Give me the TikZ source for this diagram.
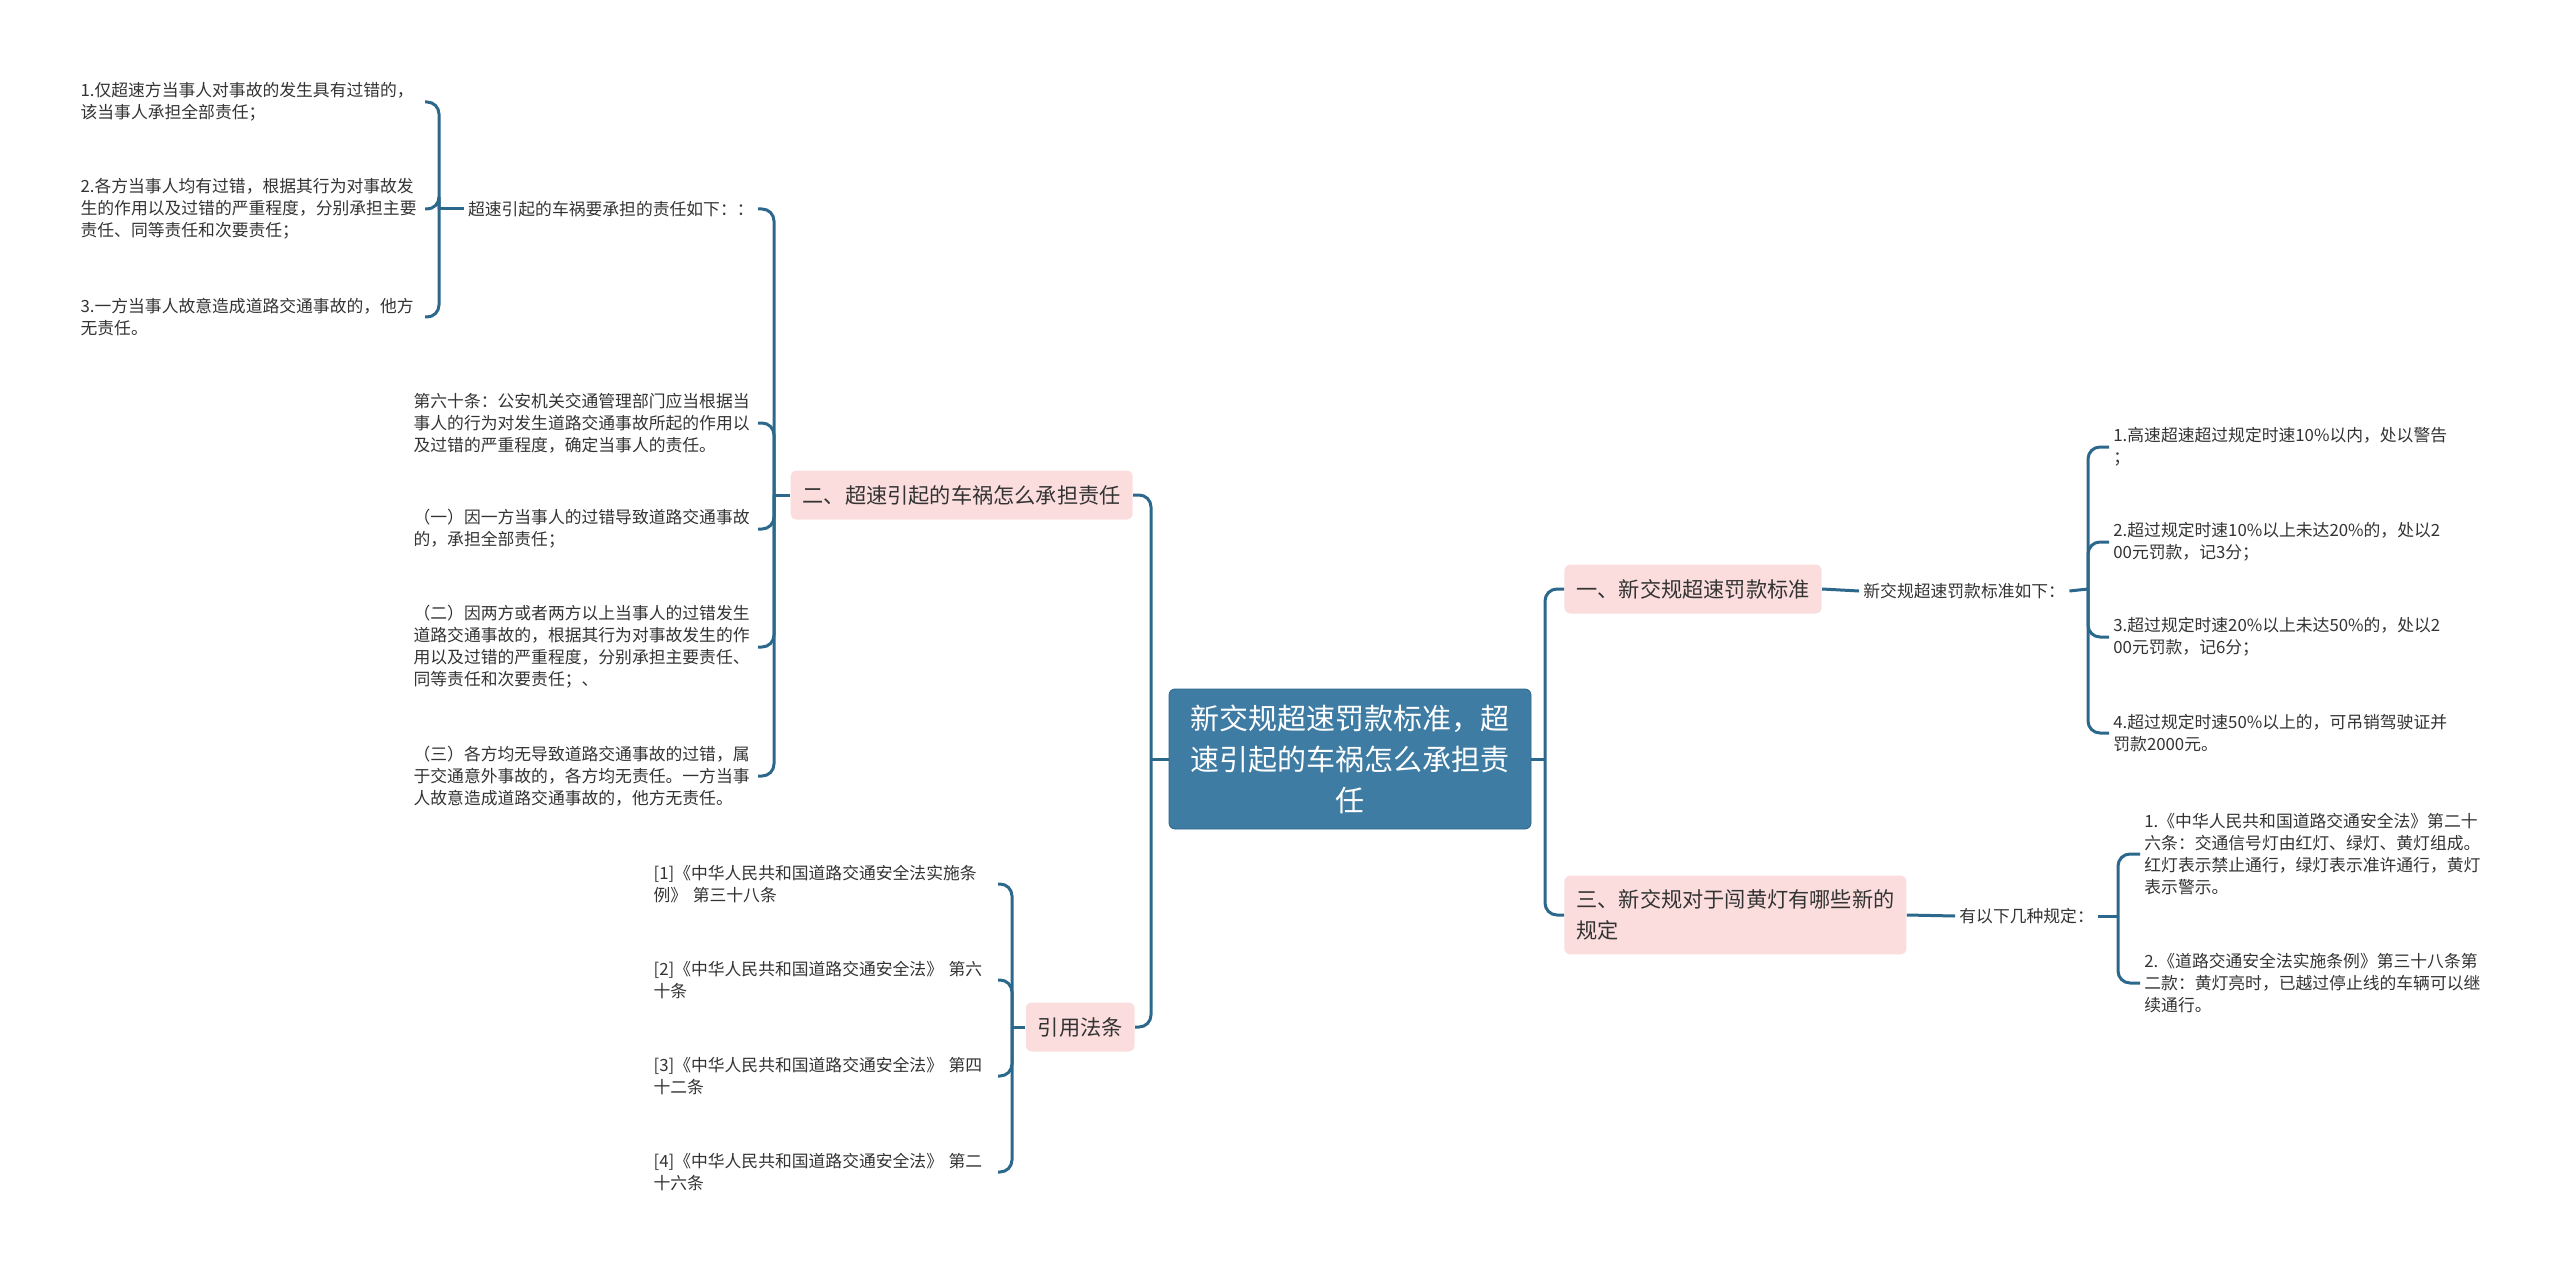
\documentclass[tikz,border=0pt]{standalone}
\usepackage{fontspec}
\setmainfont{Noto Sans CJK SC}
\usetikzlibrary{positioning}
\definecolor{rootblue}{RGB}{62,124,163}
\definecolor{rootline}{RGB}{45,100,135}
\definecolor{topicpink}{RGB}{251,221,221}
\definecolor{linkblue}{RGB}{44,104,140}
\definecolor{txtgray}{RGB}{51,51,51}

\begin{document}
\begin{tikzpicture}[x=0.5pt, y=-0.5pt]
    \tikzstyle{rootbox} = [draw=rootline, fill=rootblue, text=white, rounded corners=3pt, align=center, minimum width=181pt, minimum height=70pt, font=\fontsize{14.5pt}{20.5pt}\selectfont]
    \tikzstyle{topic} = [fill=topicpink, rounded corners=3pt, align=left, inner xsep=6pt, inner ysep=7pt, minimum height=24.5pt, text=txtgray, font=\fontsize{10.6pt}{15.5pt}\selectfont]
    \tikzstyle{leaf} = [align=left, inner sep=2pt, text=txtgray, font=\fontsize{8.4pt}{11pt}\selectfont]
    \tikzstyle{para} = [leaf, text width=170pt]
    \tikzstyle{link} = [draw=linkblue, line width=1.5pt, rounded corners=6pt]

    \useasboundingbox (0,0) rectangle (2560,1273);

    % centre
    \node[rootbox] (root) at (1350,759) {新交规超速罚款标准，超\\速引起的车祸怎么承担责\\任};

    % right side
    \node[topic, anchor=west] (fine) at (1564,589) {一、新交规超速罚款标准};
    \node[topic, anchor=west] (yellow) at (1564,915) {三、新交规对于闯黄灯有哪些新的\\规定};

    \node[leaf, anchor=west] (fineList) at (1859,591) {新交规超速罚款标准如下：};
    \node[leaf, anchor=west] (fine1) at (2109,447) {1.高速超速超过规定时速10\%以内，处以警告\\；};
    \node[leaf, anchor=west] (fine2) at (2109,542) {2.超过规定时速10\%以上未达20\%的，处以2\\00元罚款，记3分；};
    \node[leaf, anchor=west] (fine3) at (2109,637) {3.超过规定时速20\%以上未达50\%的，处以2\\00元罚款，记6分；};
    \node[leaf, anchor=west] (fine4) at (2109,733) {4.超过规定时速50\%以上的，可吊销驾驶证并\\罚款2000元。};

    \node[leaf, anchor=west] (yellowList) at (1955,916) {有以下几种规定：};
    \node[leaf, anchor=west] (yellow1) at (2140,854) {1.《中华人民共和国道路交通安全法》第二十\\六条：交通信号灯由红灯、绿灯、黄灯组成。\\红灯表示禁止通行，绿灯表示准许通行，黄灯\\表示警示。};
    \node[leaf, anchor=west] (yellow2) at (2140,983) {2.《道路交通安全法实施条例》第三十八条第\\二款：黄灯亮时，已越过停止线的车辆可以继\\续通行。};

    % left side
    \node[topic, anchor=east] (duty) at (1133,495) {二、超速引起的车祸怎么承担责任};
    \node[topic, anchor=east] (law) at (1135,1027) {引用法条};

    \node[leaf, anchor=east] (dutyList) at (758,209) {超速引起的车祸要承担的责任如下：：};
    \node[para, anchor=east] (dutyA) at (425,102) {1.仅超速方当事人对事故的发生具有过错的，\\该当事人承担全部责任；};
    \node[para, anchor=east] (dutyB) at (425,209) {2.各方当事人均有过错，根据其行为对事故发\\生的作用以及过错的严重程度，分别承担主要\\责任、同等责任和次要责任；};
    \node[para, anchor=east] (dutyC) at (425,317) {3.一方当事人故意造成道路交通事故的，他方\\无责任。};

    \node[para, anchor=east] (art60) at (758,423) {第六十条：公安机关交通管理部门应当根据当\\事人的行为对发生道路交通事故所起的作用以\\及过错的严重程度，确定当事人的责任。};
    \node[para, anchor=east] (case1) at (758,529) {（一）因一方当事人的过错导致道路交通事故\\的，承担全部责任；};
    \node[para, anchor=east] (case2) at (758,647) {（二）因两方或者两方以上当事人的过错发生\\道路交通事故的，根据其行为对事故发生的作\\用以及过错的严重程度，分别承担主要责任、\\同等责任和次要责任；、};
    \node[para, anchor=east] (case3) at (758,776) {（三）各方均无导致道路交通事故的过错，属\\于交通意外事故的，各方均无责任。一方当事\\人故意造成道路交通事故的，他方无责任。};

    \node[para, anchor=east] (ref1) at (998,884) {[1]《中华人民共和国道路交通安全法实施条\\例》 第三十八条};
    \node[para, anchor=east] (ref2) at (998,980) {[2]《中华人民共和国道路交通安全法》 第六\\十条};
    \node[para, anchor=east] (ref3) at (998,1076) {[3]《中华人民共和国道路交通安全法》 第四\\十二条};
    \node[para, anchor=east] (ref4) at (998,1172) {[4]《中华人民共和国道路交通安全法》 第二\\十六条};

    % junctions
    \coordinate (jRoot) at (1545,759);
    \coordinate (jLeft) at (1151,759);
    \coordinate (jFine) at (2088,589);
    \coordinate (jYellow) at (2118,916);
    \coordinate (jDuty) at (774,495);
    \coordinate (jList) at (439,209);
    \coordinate (jLaw) at (1012,1027);

    % connectors
    \draw[link] (root.east) -- (jRoot);
    \draw[link] (jRoot) |- (fine.west);
    \draw[link] (jRoot) |- (yellow.west);
    \draw[link] (root.west) -- (jLeft);
    \draw[link] (jLeft) |- (duty.east);
    \draw[link] (jLeft) |- (law.east);

    \draw[link] (fine.east) -- (fineList.west);
    \draw[link] (fineList.east) -- (jFine);
    \foreach \n in {fine1, fine2, fine3, fine4}
        \draw[link] (jFine) |- (\n.west);

    \draw[link] (yellow.east) -- (yellowList.west);
    \draw[link] (yellowList.east) -- (jYellow);
    \foreach \n in {yellow1, yellow2}
        \draw[link] (jYellow) |- (\n.west);

    \draw[link] (duty.west) -- (jDuty);
    \foreach \n in {dutyList, art60, case1, case2, case3}
        \draw[link] (jDuty) |- (\n.east);
    \draw[link] (dutyList.west) -- (jList);
    \foreach \n in {dutyA, dutyB, dutyC}
        \draw[link] (jList) |- (\n.east);

    \draw[link] (law.west) -- (jLaw);
    \foreach \n in {ref1, ref2, ref3, ref4}
        \draw[link] (jLaw) |- (\n.east);
\end{tikzpicture}
\end{document}
